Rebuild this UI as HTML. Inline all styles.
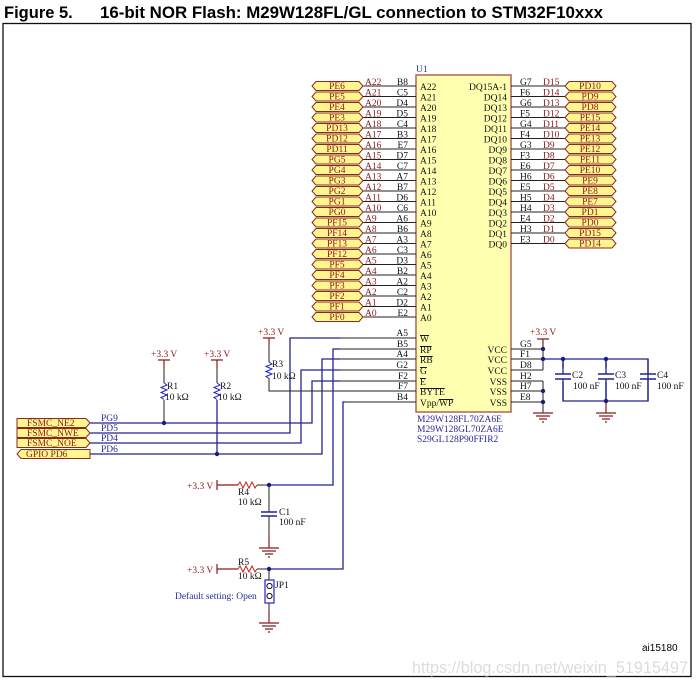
<!DOCTYPE html>
<html><head><meta charset="utf-8"><style>
html,body{margin:0;padding:0;background:#fff;width:697px;height:687px;overflow:hidden}
svg{display:block}
.t{font-family:"Liberation Serif",serif;font-size:9.5px}
.r{fill:#8b1a1a}
.b{fill:#2a2a9a}
.k{fill:#111}
.w{stroke:#23238f;stroke-width:1.3;fill:none}
.p{stroke:#222;stroke-width:1;fill:none}
.fl{fill:#fff68f;stroke:#8b2a1a;stroke-width:1}
.pw{stroke:#8b1a1a;stroke-width:1.2;fill:none}
</style></head><body>
<svg width="697" height="687" viewBox="0 0 697 687" xmlns="http://www.w3.org/2000/svg">
<text x="4" y="18" font-family="Liberation Sans,sans-serif" font-weight="bold" font-size="16.5">Figure 5.</text>
<text x="100" y="18" font-family="Liberation Sans,sans-serif" font-weight="bold" font-size="16.5" textLength="503" lengthAdjust="spacingAndGlyphs">16-bit NOR Flash: M29W128FL/GL connection to STM32F10xxx</text>
<rect x="3" y="23.5" width="688" height="653" fill="none" stroke="#111" stroke-width="1.3"/>

<!-- chip -->
<rect x="416" y="75" width="95" height="337" fill="#ffffb0" stroke="#b06060" stroke-width="1.5"/>
<text x="416" y="72" class="t b">U1</text>
<text x="417" y="422" class="t b">M29W128FL70ZA6E</text>
<text x="417" y="432" class="t b">M29W128GL70ZA6E</text>
<text x="417" y="442" class="t b">S29GL128P90FFIR2</text>

<!-- left address pins -->
<g id="L">
<path class="p" d="M363 86H416M363 96.5H416M363 107H416M363 117.5H416M363 128H416M363 138.5H416M363 149H416M363 159.5H416M363 170H416M363 180.5H416M363 191H416M363 201.5H416M363 212H416M363 222.5H416M363 233H416M363 243.5H416M363 254H416M363 264.5H416M363 275H416M363 285.5H416M363 296H416M363 306.5H416M363 317H416"/>
<g class="fl">
<polygon points="312,86 316,81.5 359,81.5 363,86 359,90.5 316,90.5"/>
<polygon points="312,96.5 316,92 359,92 363,96.5 359,101 316,101"/>
<polygon points="312,107 316,102.5 359,102.5 363,107 359,111.5 316,111.5"/>
<polygon points="312,117.5 316,113 359,113 363,117.5 359,122 316,122"/>
<polygon points="312,128 316,123.5 359,123.5 363,128 359,132.5 316,132.5"/>
<polygon points="312,138.5 316,134 359,134 363,138.5 359,143 316,143"/>
<polygon points="312,149 316,144.5 359,144.5 363,149 359,153.5 316,153.5"/>
<polygon points="312,159.5 316,155 359,155 363,159.5 359,164 316,164"/>
<polygon points="312,170 316,165.5 359,165.5 363,170 359,174.5 316,174.5"/>
<polygon points="312,180.5 316,176 359,176 363,180.5 359,185 316,185"/>
<polygon points="312,191 316,186.5 359,186.5 363,191 359,195.5 316,195.5"/>
<polygon points="312,201.5 316,197 359,197 363,201.5 359,206 316,206"/>
<polygon points="312,212 316,207.5 359,207.5 363,212 359,216.5 316,216.5"/>
<polygon points="312,222.5 316,218 359,218 363,222.5 359,227 316,227"/>
<polygon points="312,233 316,228.5 359,228.5 363,233 359,237.5 316,237.5"/>
<polygon points="312,243.5 316,239 359,239 363,243.5 359,248 316,248"/>
<polygon points="312,254 316,249.5 359,249.5 363,254 359,258.5 316,258.5"/>
<polygon points="312,264.5 316,260 359,260 363,264.5 359,269 316,269"/>
<polygon points="312,275 316,270.5 359,270.5 363,275 359,279.5 316,279.5"/>
<polygon points="312,285.5 316,281 359,281 363,285.5 359,290 316,290"/>
<polygon points="312,296 316,291.5 359,291.5 363,296 359,300.5 316,300.5"/>
<polygon points="312,306.5 316,302 359,302 363,306.5 359,311 316,311"/>
<polygon points="312,317 316,312.5 359,312.5 363,317 359,321.5 316,321.5"/>
</g>
<g class="t r" text-anchor="middle">
<text x="337" y="89">PE6</text><text x="337" y="99.5">PE5</text><text x="337" y="110">PE4</text><text x="337" y="120.5">PE3</text><text x="337" y="131">PD13</text><text x="337" y="141.5">PD12</text><text x="337" y="152">PD11</text><text x="337" y="162.5">PG5</text><text x="337" y="173">PG4</text><text x="337" y="183.5">PG3</text><text x="337" y="194">PG2</text><text x="337" y="204.5">PG1</text><text x="337" y="215">PG0</text><text x="337" y="225.5">PF15</text><text x="337" y="236">PF14</text><text x="337" y="246.5">PF13</text><text x="337" y="257">PF12</text><text x="337" y="267.5">PF5</text><text x="337" y="278">PF4</text><text x="337" y="288.5">PF3</text><text x="337" y="299">PF2</text><text x="337" y="309.5">PF1</text><text x="337" y="320">PF0</text>
</g>
<g class="t r">
<text x="365" y="85">A22</text><text x="365" y="95.5">A21</text><text x="365" y="106">A20</text><text x="365" y="116.5">A19</text><text x="365" y="127">A18</text><text x="365" y="137.5">A17</text><text x="365" y="148">A16</text><text x="365" y="158.5">A15</text><text x="365" y="169">A14</text><text x="365" y="179.5">A13</text><text x="365" y="190">A12</text><text x="365" y="200.5">A11</text><text x="365" y="211">A10</text><text x="365" y="221.5">A9</text><text x="365" y="232">A8</text><text x="365" y="242.5">A7</text><text x="365" y="253">A6</text><text x="365" y="263.5">A5</text><text x="365" y="274">A4</text><text x="365" y="284.5">A3</text><text x="365" y="295">A2</text><text x="365" y="305.5">A1</text><text x="365" y="316">A0</text>
</g>
<g class="t k" text-anchor="end">
<text x="408" y="85">B8</text><text x="408" y="95.5">C5</text><text x="408" y="106">D4</text><text x="408" y="116.5">D5</text><text x="408" y="127">C4</text><text x="408" y="137.5">B3</text><text x="408" y="148">E7</text><text x="408" y="158.5">D7</text><text x="408" y="169">C7</text><text x="408" y="179.5">A7</text><text x="408" y="190">B7</text><text x="408" y="200.5">D6</text><text x="408" y="211">C6</text><text x="408" y="221.5">A6</text><text x="408" y="232">B6</text><text x="408" y="242.5">A3</text><text x="408" y="253">C3</text><text x="408" y="263.5">D3</text><text x="408" y="274">B2</text><text x="408" y="284.5">A2</text><text x="408" y="295">C2</text><text x="408" y="305.5">D2</text><text x="408" y="316">E2</text>
</g>
<g class="t k">
<text x="420" y="90">A22</text><text x="420" y="100.5">A21</text><text x="420" y="111">A20</text><text x="420" y="121.5">A19</text><text x="420" y="132">A18</text><text x="420" y="142.5">A17</text><text x="420" y="153">A16</text><text x="420" y="163.5">A15</text><text x="420" y="174">A14</text><text x="420" y="184.5">A13</text><text x="420" y="195">A12</text><text x="420" y="205.5">A11</text><text x="420" y="216">A10</text><text x="420" y="226.5">A9</text><text x="420" y="237">A8</text><text x="420" y="247.5">A7</text><text x="420" y="258">A6</text><text x="420" y="268.5">A5</text><text x="420" y="279">A4</text><text x="420" y="289.5">A3</text><text x="420" y="300">A2</text><text x="420" y="310.5">A1</text><text x="420" y="321">A0</text>
</g>
</g>

<!-- right data pins -->
<path class="p" d="M511 86H565M511 96.5H565M511 107H565M511 117.5H565M511 128H565M511 138.5H565M511 149H565M511 159.5H565M511 170H565M511 180.5H565M511 191H565M511 201.5H565M511 212H565M511 222.5H565M511 233H565M511 243.5H565"/>
<g class="fl">
<polygon points="565,86 569,81.5 612,81.5 616,86 612,90.5 569,90.5"/>
<polygon points="565,96.5 569,92 612,92 616,96.5 612,101 569,101"/>
<polygon points="565,107 569,102.5 612,102.5 616,107 612,111.5 569,111.5"/>
<polygon points="565,117.5 569,113 612,113 616,117.5 612,122 569,122"/>
<polygon points="565,128 569,123.5 612,123.5 616,128 612,132.5 569,132.5"/>
<polygon points="565,138.5 569,134 612,134 616,138.5 612,143 569,143"/>
<polygon points="565,149 569,144.5 612,144.5 616,149 612,153.5 569,153.5"/>
<polygon points="565,159.5 569,155 612,155 616,159.5 612,164 569,164"/>
<polygon points="565,170 569,165.5 612,165.5 616,170 612,174.5 569,174.5"/>
<polygon points="565,180.5 569,176 612,176 616,180.5 612,185 569,185"/>
<polygon points="565,191 569,186.5 612,186.5 616,191 612,195.5 569,195.5"/>
<polygon points="565,201.5 569,197 612,197 616,201.5 612,206 569,206"/>
<polygon points="565,212 569,207.5 612,207.5 616,212 612,216.5 569,216.5"/>
<polygon points="565,222.5 569,218 612,218 616,222.5 612,227 569,227"/>
<polygon points="565,233 569,228.5 612,228.5 616,233 612,237.5 569,237.5"/>
<polygon points="565,243.5 569,239 612,239 616,243.5 612,248 569,248"/>
</g>
<g class="t r" text-anchor="middle">
<text x="590" y="89">PD10</text><text x="590" y="99.5">PD9</text><text x="590" y="110">PD8</text><text x="590" y="120.5">PE15</text><text x="590" y="131">PE14</text><text x="590" y="141.5">PE13</text><text x="590" y="152">PE12</text><text x="590" y="162.5">PE11</text><text x="590" y="173">PE10</text><text x="590" y="183.5">PE9</text><text x="590" y="194">PE8</text><text x="590" y="204.5">PE7</text><text x="590" y="215">PD1</text><text x="590" y="225.5">PD0</text><text x="590" y="236">PD15</text><text x="590" y="246.5">PD14</text>
</g>
<g class="t k">
<text x="520" y="85">G7</text><text x="520" y="95.5">F6</text><text x="520" y="106">G6</text><text x="520" y="116.5">F5</text><text x="520" y="127">G4</text><text x="520" y="137.5">F4</text><text x="520" y="148">G3</text><text x="520" y="158.5">F3</text><text x="520" y="169">E6</text><text x="520" y="179.5">H6</text><text x="520" y="190">E5</text><text x="520" y="200.5">H5</text><text x="520" y="211">H4</text><text x="520" y="221.5">E4</text><text x="520" y="232">H3</text><text x="520" y="242.5">E3</text>
</g>
<g class="t r">
<text x="543" y="85">D15</text><text x="543" y="95.5">D14</text><text x="543" y="106">D13</text><text x="543" y="116.5">D12</text><text x="543" y="127">D11</text><text x="543" y="137.5">D10</text><text x="543" y="148">D9</text><text x="543" y="158.5">D8</text><text x="543" y="169">D7</text><text x="543" y="179.5">D6</text><text x="543" y="190">D5</text><text x="543" y="200.5">D4</text><text x="543" y="211">D3</text><text x="543" y="221.5">D2</text><text x="543" y="232">D1</text><text x="543" y="242.5">D0</text>
</g>
<g class="t k" text-anchor="end">
<text x="507" y="90">DQ15A-1</text><text x="507" y="100.5">DQ14</text><text x="507" y="111">DQ13</text><text x="507" y="121.5">DQ12</text><text x="507" y="132">DQ11</text><text x="507" y="142.5">DQ10</text><text x="507" y="153">DQ9</text><text x="507" y="163.5">DQ8</text><text x="507" y="174">DQ7</text><text x="507" y="184.5">DQ6</text><text x="507" y="195">DQ5</text><text x="507" y="205.5">DQ4</text><text x="507" y="216">DQ3</text><text x="507" y="226.5">DQ2</text><text x="507" y="237">DQ1</text><text x="507" y="247.5">DQ0</text>
</g>

<!-- control pins -->
<path class="p" d="M340 338H416M340 349H416M340 359H416M340 370H416M340 381H416M290 391H416M345 402H416"/>
<g class="t k" text-anchor="end">
<text x="408" y="336">A5</text><text x="408" y="347">B5</text><text x="408" y="357">A4</text><text x="408" y="368">G2</text><text x="408" y="379">F2</text><text x="408" y="389">F7</text><text x="408" y="400">B4</text>
</g>
<g class="t k">
<text x="420" y="342" text-decoration="overline">W</text>
<text x="420" y="353" text-decoration="overline">RP</text>
<text x="420" y="363" text-decoration="overline">RB</text>
<text x="420" y="374" text-decoration="overline">G</text>
<text x="420" y="385" text-decoration="overline">E</text>
<text x="420" y="395" text-decoration="overline">BYTE</text>
<text x="420" y="406">Vpp/<tspan text-decoration="overline">WP</tspan></text>
</g>
<g class="t k" text-anchor="end">
<text x="507" y="353">VCC</text><text x="507" y="363">VCC</text><text x="507" y="374">VCC</text><text x="507" y="385">VSS</text><text x="507" y="395">VSS</text><text x="507" y="406">VSS</text>
</g>
<path class="p" d="M511 349H543M511 359H543M511 370H543M511 381H543M511 391H543M511 402H543"/>
<g class="t k">
<text x="520" y="347">G5</text><text x="520" y="357">F1</text><text x="520" y="368">D8</text><text x="520" y="379">H2</text><text x="520" y="389">H7</text><text x="520" y="400">E8</text>
</g>

<!-- power right -->
<text x="530" y="335" class="t r">+3.3 V</text>
<path class="pw" d="M537 339H549M543 339V345"/>
<path class="p" d="M543 345V370M543 381V413"/>
<path class="w" d="M543 359H648V401H563V359M606 359V401"/>
<g fill="#fff"><rect x="555" y="368" width="80" height="14"/></g>
<path class="w" d="M563 359V374M563 379V401M606 359V374M606 379V401M648 359V374M648 379V401"/>
<path stroke="#23238f" stroke-width="1.6" d="M555 374H571M555 379H571M598 374H614M598 379H614M640 374H656M640 379H656"/>
<g class="t k"><text x="572" y="378">C2</text><text x="615" y="378">C3</text><text x="657" y="378">C4</text>
<text x="573" y="389">100 nF</text><text x="615" y="389">100 nF</text><text x="657" y="389">100 nF</text></g>
<path class="pw" d="M606 401V413M596 413H616M599 416H613M602 419H610M605 422H607"/>
<path class="pw" d="M543 413V413M533 413H553M536 416H550M539 419H547M542 422H544"/>
<g fill="#1a1a80"><circle cx="543" cy="349" r="2.2"/><circle cx="543" cy="359" r="2.2"/><circle cx="563" cy="359" r="2.2"/><circle cx="606" cy="359" r="2.2"/><circle cx="606" cy="401" r="2.2"/><circle cx="543" cy="391" r="2.2"/><circle cx="543" cy="402" r="2.2"/></g>

<!-- control wiring -->
<path class="w" d="M340 338H290V433H90M340 349H333V485H269M340 359H322V454H90M340 370H301V443H90M340 381H312V423H90M345 402H343V569H269"/>
<!-- R3 -->
<text x="258" y="335" class="t r">+3.3 V</text>
<path class="pw" d="M263 338H275M269 338V345"/>
<path class="p" d="M269 345V362M269 378V391H290"/>
<path stroke="#2222cc" fill="none" d="M269 362l3 2-6 2.5 6 2.5-6 2.5 6 2.5-6 2.5 3 2"/>
<text x="272" y="367" class="t k">R3</text><text x="272" y="379" class="t k">10 kΩ</text>
<!-- R1 -->
<text x="151" y="357" class="t r">+3.3 V</text>
<path class="pw" d="M158 360H170M164 360V368"/>
<path class="p" d="M164 368V383M164 400V423"/>
<path stroke="#2222cc" fill="none" d="M164 383l3 2-6 2.5 6 2.5-6 2.5 6 2.5-6 2.5 3 2"/>
<text x="167" y="389" class="t k">R1</text><text x="165" y="400" class="t k">10 kΩ</text>
<!-- R2 -->
<text x="204" y="357" class="t r">+3.3 V</text>
<path class="pw" d="M211 360H223M217 360V368"/>
<path class="p" d="M217 368V383"/>
<path class="w" d="M217 400V454"/>
<path stroke="#2222cc" fill="none" d="M217 383l3 2-6 2.5 6 2.5-6 2.5 6 2.5-6 2.5 3 2"/>
<text x="220" y="389" class="t k">R2</text><text x="218" y="400" class="t k">10 kΩ</text>
<g fill="#1a1a80"><circle cx="164" cy="423" r="2.2"/><circle cx="217" cy="454" r="2.2"/></g>

<!-- left flags -->
<g class="fl">
<polygon points="17,418.5 86,418.5 90,423 86,427.5 17,427.5"/>
<polygon points="17,428.5 86,428.5 90,433 86,437.5 17,437.5"/>
<polygon points="17,438.5 86,438.5 90,443 86,447.5 17,447.5"/>
<polygon points="21,449.5 90,449.5 90,458.5 21,458.5 17,454"/>
</g>
<g class="t r">
<text x="27" y="426">FSMC_NE2</text><text x="27" y="436">FSMC_NWE</text><text x="27" y="446">FSMC_NOE</text><text x="26" y="457">GPIO PD6</text>
</g>
<g class="t b"><text x="101" y="421">PG9</text><text x="101" y="431">PD5</text><text x="101" y="441">PD4</text><text x="101" y="452">PD6</text></g>

<!-- R4 / C1 -->
<text x="187" y="489" class="t r">+3.3 V</text>
<path class="pw" d="M217 480V490M217 485H238"/>
<path stroke="#c02020" fill="none" d="M238 485l2-3 3 6 3-6 3 6 3-6 3 6 2-3"/>
<path class="p" d="M257 485H269V512M269 516V536"/>
<path stroke="#23238f" stroke-width="1.6" d="M261 512H277M261 516H277"/>
<text x="238" y="495" class="t k">R4</text><text x="238" y="505" class="t k">10 kΩ</text>
<text x="279" y="515" class="t k">C1</text><text x="279" y="525" class="t k">100 nF</text>
<path class="pw" d="M269 536V548M259 548H279M262 551H276M265 554H273M268 557H270"/>
<circle cx="269" cy="485" r="2.2" fill="#1a1a80"/>
<!-- R5 / JP1 -->
<text x="187" y="573" class="t r">+3.3 V</text>
<path class="pw" d="M217 564V574M217 569H238"/>
<path stroke="#c02020" fill="none" d="M238 569l2-3 3 6 3-6 3 6 3-6 3 6 2-3"/>
<path class="p" d="M257 569H269V580M269 603V611"/>
<text x="238" y="565" class="t k">R5</text><text x="238" y="579" class="t k">10 kΩ</text>
<rect x="265" y="580" width="9" height="23" fill="none" stroke="#2222cc" stroke-width="1.2"/>
<circle cx="269.5" cy="586" r="2.6" fill="none" stroke="#111"/><circle cx="269.5" cy="596" r="2.6" fill="none" stroke="#111"/>
<text x="275" y="588" class="t k">JP1</text>
<text x="175" y="599" class="t b">Default setting: Open</text>
<path class="pw" d="M269 611V623M259 623H279M262 626H276M265 629H273M268 632H270"/>
<circle cx="269" cy="569" r="2.2" fill="#1a1a80"/>

<text x="642" y="651" font-family="Liberation Sans,sans-serif" font-size="10">ai15180</text>
<text x="412" y="673" font-family="Liberation Sans,sans-serif" font-size="16.5" fill="#dcdcdc" textLength="276" lengthAdjust="spacingAndGlyphs">https://blog.csdn.net/weixin_51915497</text>
</svg>
</body></html>
